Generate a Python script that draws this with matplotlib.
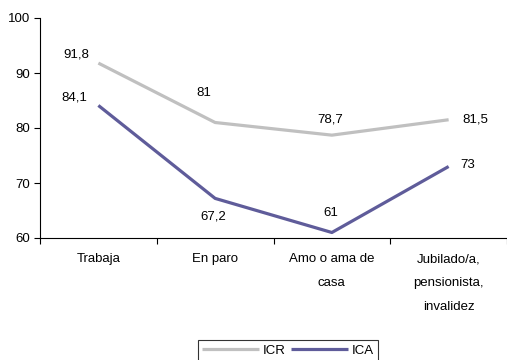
import matplotlib
matplotlib.use('Agg')
import matplotlib.pyplot as plt
import numpy as np

categories = ['Trabaja', 'En paro', 'Amo o ama de\ncasa', 'Jubilado/a,\npensionista,\ninvalidez']
icr = [91.8, 81, 78.7, 81.5]
ica = [84.1, 67.2, 61, 73]
icr_labels = ['91,8', '81', '78,7', '81,5']
ica_labels = ['84,1', '67,2', '61', '73']

plt.rcParams['font.family'] = ['Liberation Sans', 'DejaVu Sans']
plt.rcParams['font.size'] = 9.5

fig = plt.figure(figsize=(5.07, 3.60), dpi=100)
ax = fig.add_axes([40 / 507, 1 - 238 / 360, 1 - 40 / 507, 220 / 360])

x = np.arange(len(categories))
l1, = ax.plot(x, icr, color='#c0c0c0', lw=2.3, label='ICR', solid_capstyle='butt')
l2, = ax.plot(x, ica, color='#5f5c9a', lw=2.3, label='ICA', solid_capstyle='butt')

# offsets for the value labels, in points
icr_off = [(-16, 6), (-8, 21), (-1, 11), (19, 0)]
ica_off = [(-17, 6), (-1, -13), (-1, 14), (14, 1)]
for i in range(len(x)):
    ax.annotate(icr_labels[i], (x[i], icr[i]), xytext=icr_off[i], textcoords='offset points',
                ha='center', va='center')
    ax.annotate(ica_labels[i], (x[i], ica[i]), xytext=ica_off[i], textcoords='offset points',
                ha='center', va='center')

ax.set_xlim(-0.5, 3.5)
ax.set_ylim(60, 100)
ax.set_yticks([60, 70, 80, 90, 100])
ax.set_xticks(x)
ax.set_xticklabels(categories, linespacing=2.3)
ax.set_xticks(np.arange(-0.5, 3.6, 1), minor=True)
ax.tick_params(axis='x', which='major', length=0, pad=11)
ax.tick_params(axis='x', which='minor', length=4, width=0.8, direction='out')
ax.tick_params(axis='y', length=4, width=0.8, direction='out', pad=3)
for s in ['top', 'right']:
    ax.spines[s].set_visible(False)
for s in ['left', 'bottom']:
    ax.spines[s].set_linewidth(0.8)

leg = fig.legend(handles=[l1, l2], loc='upper center', bbox_to_anchor=(288 / 507, 1 - 340 / 360),
                 ncol=2, frameon=True, fancybox=False, edgecolor='black',
                 handlelength=4.3, handletextpad=0.3, columnspacing=0.4,
                 borderpad=0.35, borderaxespad=0)
leg.get_frame().set_linewidth(0.8)

fig.savefig('out.png', dpi=100)
